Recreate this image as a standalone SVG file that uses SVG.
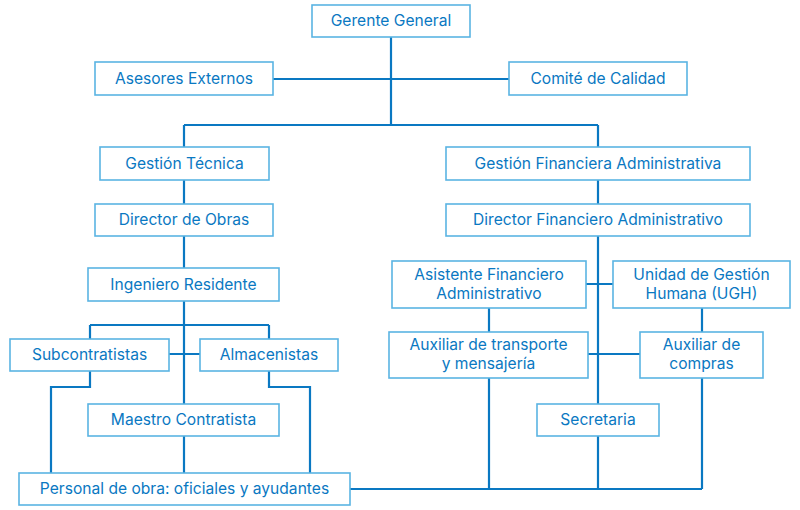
<svg xmlns="http://www.w3.org/2000/svg" width="800" height="510" viewBox="0 0 800 510">
<style>
.box{fill:#fff;stroke:#5AB4E3;stroke-width:1.6}
.t{font-family:Inter,"Liberation Sans",Arial,sans-serif;font-size:15.6px;fill:#0A78C2;text-anchor:middle;dominant-baseline:central}
.c{fill:none;stroke:#0A78C2;stroke-width:2.2}
</style>
<rect width="800" height="510" fill="#fff"/>
<g id="connectors">
<path class="c" d="M391 37V125M273 79H509M184 125H598M184 125V147M598 125V147"/>
<path class="c" d="M184 180V204M184 236V268M184 301V404M90 325H269M90 325V339M269 325V339M169 354H200"/>
<path class="c" d="M90 371V387H51V473M269 371V387H310V473M184 436V473"/>
<path class="c" d="M598 180V204M598 236V404M586 284H613M489 308V332M702 308V332M588 354H640"/>
<path class="c" d="M350 489H702M489 378V489M598 436V489M702 378V489"/>
</g>
<g id="gerente"><rect class="box" x="312" y="5" width="158" height="32"/><text class="t" x="391" y="20.5">Gerente General</text></g>
<g id="asesores"><rect class="box" x="95" y="62" width="178" height="33"/><text class="t" x="184" y="78">Asesores Externos</text></g>
<g id="comite"><rect class="box" x="509" y="62" width="178" height="33"/><text class="t" x="598" y="78">Comité de Calidad</text></g>
<g id="gestion-tecnica"><rect class="box" x="100" y="147" width="169" height="33"/><text class="t" x="184.5" y="163">Gestión Técnica</text></g>
<g id="gestion-financiera"><rect class="box" x="446" y="147" width="304" height="33"/><text class="t" x="598" y="163">Gestión Financiera Administrativa</text></g>
<g id="director-obras"><rect class="box" x="95" y="204" width="178" height="32"/><text class="t" x="184" y="219.5">Director de Obras</text></g>
<g id="director-financiero"><rect class="box" x="446" y="204" width="304" height="32"/><text class="t" x="598" y="219.5">Director Financiero Administrativo</text></g>
<g id="ingeniero"><rect class="box" x="88" y="268" width="191" height="33"/><text class="t" x="183.5" y="284">Ingeniero Residente</text></g>
<g id="asistente"><rect class="box" x="392" y="261" width="194" height="47"/><text class="t" x="489" y="274.5">Asistente Financiero</text><text class="t" x="489" y="293.5">Administrativo</text></g>
<g id="ugh"><rect class="box" x="613" y="261" width="177" height="47"/><text class="t" x="701.5" y="274.5">Unidad de Gestión</text><text class="t" x="701.5" y="293.5">Humana (UGH)</text></g>
<g id="subcontratistas"><rect class="box" x="10" y="339" width="159" height="32"/><text class="t" x="89.5" y="354.5">Subcontratistas</text></g>
<g id="almacenistas"><rect class="box" x="200" y="339" width="138" height="32"/><text class="t" x="269" y="354.5">Almacenistas</text></g>
<g id="aux-transporte"><rect class="box" x="389" y="332" width="199" height="46"/><text class="t" x="488.5" y="344.5">Auxiliar de transporte</text><text class="t" x="488.5" y="363.5">y mensajería</text></g>
<g id="aux-compras"><rect class="box" x="640" y="332" width="123" height="46"/><text class="t" x="701.5" y="344.5">Auxiliar de</text><text class="t" x="701.5" y="363.5">compras</text></g>
<g id="maestro"><rect class="box" x="88" y="404" width="191" height="32"/><text class="t" x="183.5" y="419.5">Maestro Contratista</text></g>
<g id="secretaria"><rect class="box" x="537" y="404" width="122" height="32"/><text class="t" x="598" y="419.5">Secretaria</text></g>
<g id="personal"><rect class="box" x="19" y="473" width="331" height="32"/><text class="t" x="184.5" y="488.5">Personal de obra: oficiales y ayudantes</text></g>
</svg>
